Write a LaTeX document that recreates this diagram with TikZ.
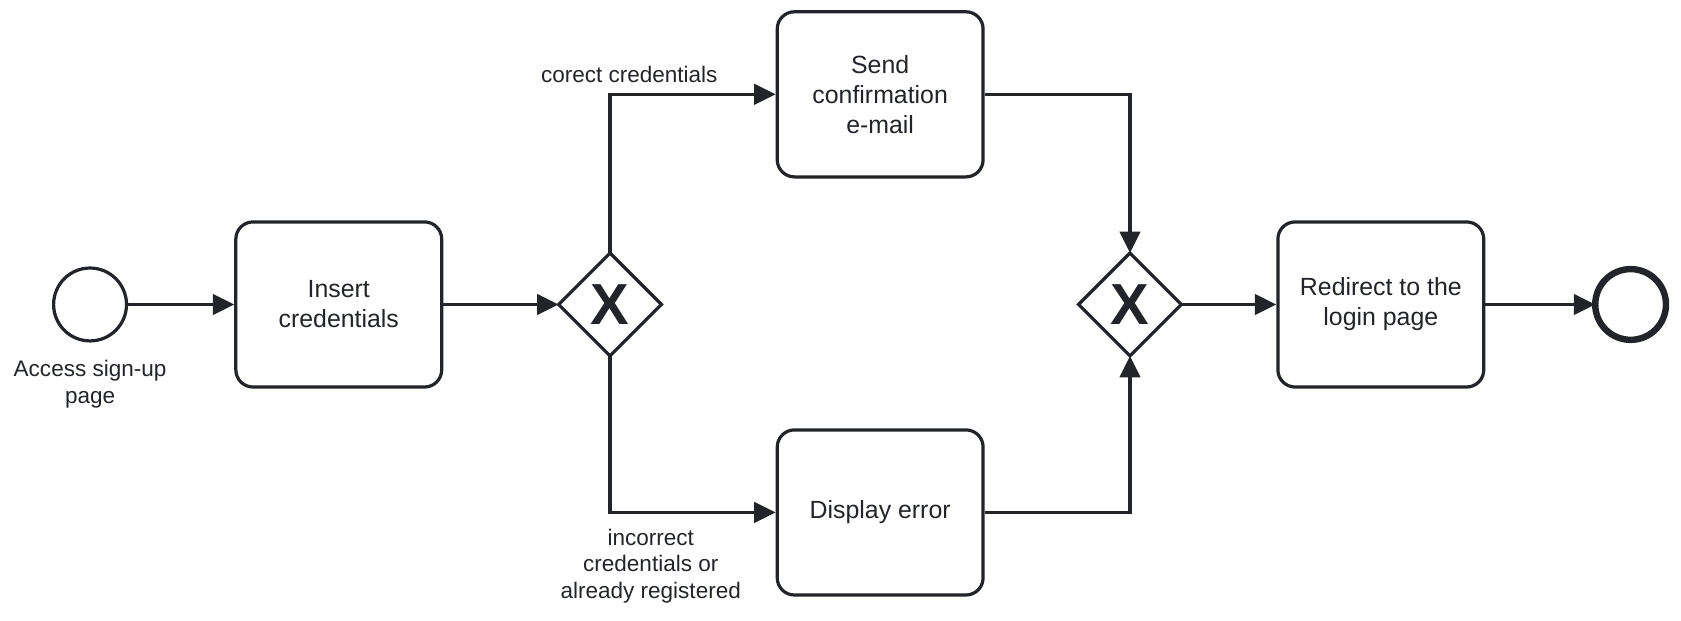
\documentclass[tikz,border=0pt]{standalone}
\usepackage{fontspec}
\setmainfont{Liberation Sans}
\usetikzlibrary{arrows.meta,shapes.geometric}
\definecolor{bpmnline}{RGB}{34,36,42}
\tikzset{
  task/.style={draw=bpmnline,line width=1.5pt,rounded corners=8pt,minimum width=96pt,minimum height=77pt,align=center,text=bpmnline,font=\fontsize{11.6}{14}\selectfont},
  gateway/.style={draw=bpmnline,line width=1.5pt,diamond,minimum width=48pt,minimum height=48pt,inner sep=0pt,outer sep=0pt,text=bpmnline,font=\fontsize{27}{27}\selectfont\bfseries},
  event/.style={draw=bpmnline,circle,line width=1.5pt,minimum size=34pt,inner sep=0pt,outer sep=0pt},
  flowlabel/.style={align=center,text=bpmnline,font=\fontsize{10.5}{12.5}\selectfont},
  flow/.style={draw=bpmnline,line width=1.5pt,-{Triangle[length=10pt,width=9.5pt]}}
}
\begin{document}
\begin{tikzpicture}[x=0.5pt,y=0.5pt]
    \useasboundingbox (0,0) rectangle (1568,-579);
    % Start event
    \node[event] (start) at (84,-284) {};
    \node[flowlabel] (startlbl) at (84,-358) {Access sign-up\\page};
    % Tasks
    \node[task] (insert) at (316,-284) {Insert\\credentials};
    \node[task] (send) at (821,-88) {Send\\confirmation\\e-mail};
    \node[task] (error) at (821,-478) {Display error};
    \node[task] (redirect) at (1288,-284) {Redirect to the\\login page};
    % Gateways
    \node[gateway] (split) at (569,-284) {X};
    \node[gateway] (merge) at (1054,-284) {X};
    % End event
    \node[event,line width=3pt,minimum size=33pt] (end) at (1521,-284) {};
    % Sequence flows
    \draw[flow] (start) -- (insert);
    \draw[flow] (insert) -- (split);
    \draw[flow] (split.north) |- (send);
    \draw[flow] (split.south) |- (error);
    \draw[flow] (send) -| (merge.north);
    \draw[flow] (error) -| (merge.south);
    \draw[flow] (merge) -- (redirect);
    \draw[flow] (redirect) -- (end);
    % Flow labels
    \node[flowlabel] (oklbl) at (587,-69) {corect credentials};
    \node[flowlabel] (faillbl) at (607,-528) {incorrect\\credentials or\\already registered};
\end{tikzpicture}
\end{document}
